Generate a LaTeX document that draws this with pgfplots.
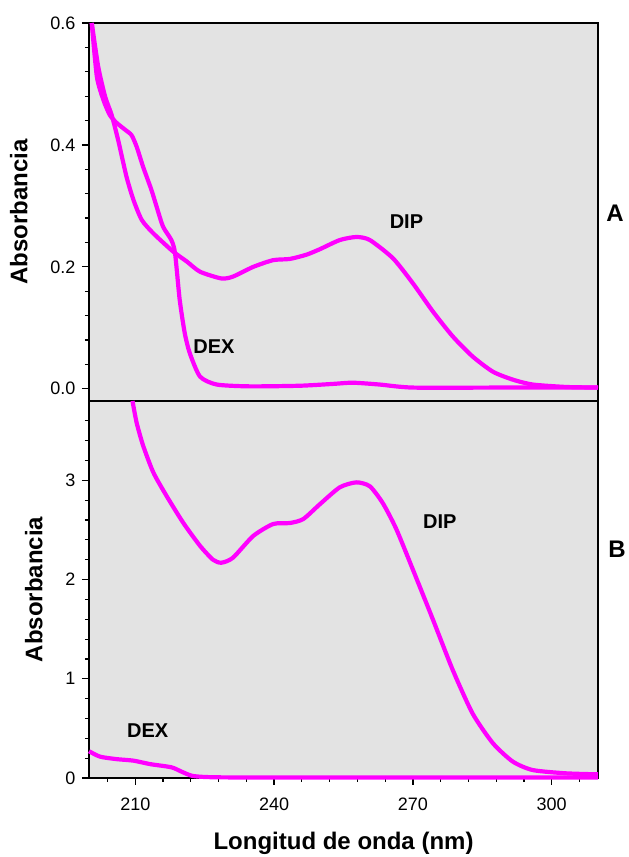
\documentclass[border=0pt]{standalone}
\usepackage{fontspec}
\setmainfont{Liberation Sans}
\usepackage{pgfplots}
\pgfplotsset{compat=1.18}
\definecolor{bg}{RGB}{227,227,227}
\definecolor{mag}{RGB}{255,0,255}
\pgfplotsset{
  panel/.style={
    scale only axis, width=509pt, clip=false,
    xmin=200, xmax=310,
    axis background/.style={fill=bg},
    axis line style={line width=2pt},
    every tick/.style={line width=1.2pt, black},
    major tick length=7pt, minor tick length=4pt,
    tick align=outside,
    ytick pos=left,
    /pgf/number format/assume math mode=true,
    tick label style={font=\fontsize{18}{20}\selectfont},
    yticklabel style={xshift=-3pt},
    xticklabel style={yshift=-9pt},
    label style={font=\bfseries\fontsize{24}{28}\selectfont},
    ylabel style={yshift=16pt},
    xlabel style={yshift=-15pt},
  },
}
\tikzset{
  spec/.style={mag, line width=4.2pt, smooth, tension=0.4},
  lab/.style={font=\bfseries\fontsize{20}{24}\selectfont},
}
\begin{document}
\begin{tikzpicture}
% Panel A
\begin{axis}[panel, at={(89pt,456pt)}, anchor=south west, height=378pt,
  ymin=-0.02, ymax=0.6, ytick={0,0.2,0.4,0.6},
  minor ytick={0.04,0.08,0.12,0.16,0.24,0.28,0.32,0.36,0.44,0.48,0.52,0.56},
  xtick=\empty,
  yticklabel style={/pgf/number format/.cd, fixed, fixed zerofill, precision=1},
  ylabel={Absorbancia}]
% DIP
\addplot[spec, no markers] coordinates {
(200.6,0.600) (202.0,0.528) (203.5,0.479) (204.9,0.449) (206.3,0.408)
(208.1,0.348) (209.6,0.310) (211.4,0.277) (213.9,0.255) (218.2,0.225)
(221.1,0.209) (224.0,0.192) (228.6,0.181) (231.1,0.184) (235.5,0.200)
(239.8,0.211) (243.4,0.213) (247.0,0.220) (249.9,0.229) (254.2,0.244)
(257.8,0.249) (260.7,0.244) (265.7,0.214) (270.0,0.173) (274.3,0.127)
(278.6,0.086) (282.9,0.053) (287.3,0.028) (291.6,0.015) (295.9,0.007)
(303.1,0.003) (310.0,0.002)};
% DEX
\addplot[spec, no markers] coordinates {
(200.6,0.600) (201.7,0.512) (203.1,0.474) (204.5,0.449) (206.0,0.436)
(207.8,0.425) (209.2,0.416) (210.3,0.397) (211.7,0.364) (213.5,0.326)
(214.6,0.299) (216.0,0.266) (217.8,0.244) (218.6,0.222) (219.6,0.146)
(220.7,0.091) (221.8,0.058) (224.0,0.020) (227.6,0.007) (234.7,0.004)
(245.5,0.005) (252.7,0.008) (257.0,0.010) (262.8,0.007) (270.0,0.002)
(288.7,0.002) (310.0,0.002)};
\node[lab] at (axis cs:268.6,0.274) {DIP};
\node[lab] at (axis cs:227.0,0.070) {DEX};
\end{axis}
% Panel B
\begin{axis}[panel, at={(89pt,79pt)}, anchor=south west, height=377pt,
  ymin=0, ymax=3.8, ytick={0,1,2,3},
  minor ytick={0.2,0.4,0.6,0.8,1.2,1.4,1.6,1.8,2.2,2.4,2.6,2.8,3.2,3.4,3.6},
  xtick={210,240,270,300},
  minor xtick={204,216,222,228,234,246,252,258,264,276,282,288,294,306},
  xtick pos=lower,
  xlabel={Longitud de onda (nm)}, ylabel={Absorbancia}]
% DIP
\addplot[spec, no markers] coordinates {
(209.4,3.80) (210.3,3.58) (211.7,3.35) (213.9,3.08) (216.8,2.84)
(220.4,2.57) (224.0,2.34) (226.8,2.20) (228.6,2.17) (231.1,2.22)
(235.5,2.44) (239.8,2.56) (243.4,2.57) (246.3,2.61) (249.9,2.76)
(254.2,2.93) (257.8,2.98) (260.7,2.94) (263.5,2.77) (266.4,2.51)
(270.0,2.10) (274.3,1.60) (278.6,1.09) (282.9,0.65) (287.3,0.35)
(291.6,0.165) (295.9,0.08) (303.1,0.047) (310.0,0.037)};
% DEX
\addplot[spec, no markers] coordinates {
(200.0,0.27) (202.4,0.215) (206.0,0.19) (209.6,0.175) (213.2,0.14)
(217.8,0.108) (220.0,0.064) (222.5,0.02) (227.6,0.007) (245.5,0.005)
(310.0,0.005)};
\node[lab] at (axis cs:275.8,2.58) {DIP};
\node[lab] at (axis cs:212.7,0.475) {DEX};
\end{axis}
\node[font=\bfseries\fontsize{24}{28}\selectfont] at (615pt,644pt) {A};
\node[font=\bfseries\fontsize{24}{28}\selectfont] at (617pt,308pt) {B};
\pgfresetboundingbox
\path[use as bounding box] (0pt,0pt) rectangle (629pt,857pt);
\end{tikzpicture}
\end{document}
